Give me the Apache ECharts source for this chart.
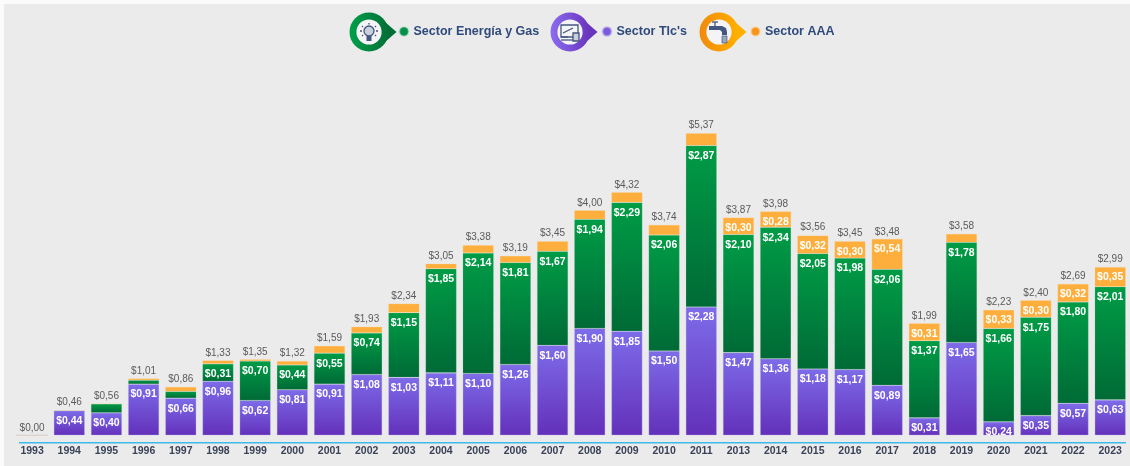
<!DOCTYPE html>
<html>
<head>
<meta charset="utf-8">
<style>
html,body{margin:0;padding:0;background:#fbfbfb;width:1130px;height:466px;overflow:hidden}
#bg{position:absolute;left:4px;top:4px;width:1126px;height:462px;background:#ebebeb}
#c{position:absolute;left:0;top:0;width:1130px;height:466px;filter:blur(0.5px)}
</style>
<script src="https://cdn.jsdelivr.net/npm/echarts@6/dist/echarts.min.js"></script>
</head>
<body>
<div id="bg"></div>
<div id="c"></div>
<script>
const years = ['1993','1994','1995','1996','1997','1998','1999','2000','2001','2002','2003','2004','2005','2006','2007','2008','2009','2010','2011','2013','2014','2015','2016','2017','2018','2019','2020','2021','2022','2023'];
const tics =    [0,0.44,0.40,0.91,0.66,0.96,0.62,0.81,0.91,1.08,1.03,1.11,1.10,1.26,1.60,1.90,1.85,1.50,2.28,1.47,1.36,1.18,1.17,0.89,0.31,1.65,0.24,0.35,0.57,0.63];
const energia = [0,0,0.16,0.07,0.12,0.31,0.70,0.44,0.55,0.74,1.15,1.85,2.14,1.81,1.67,1.94,2.29,2.06,2.87,2.10,2.34,2.05,1.98,2.06,1.37,1.78,1.66,1.75,1.80,2.01];
const aaa =     [0,0,0,0.03,0.08,0.06,0.03,0.07,0.13,0.11,0.16,0.09,0.14,0.12,0.18,0.16,0.18,0.18,0.22,0.30,0.28,0.32,0.30,0.54,0.31,0.15,0.33,0.30,0.32,0.35];
const totals =  [0,0.46,0.56,1.01,0.86,1.33,1.35,1.32,1.59,1.93,2.34,3.05,3.38,3.19,3.45,4.00,4.32,3.74,5.37,3.87,3.98,3.56,3.45,3.48,1.99,3.58,2.23,2.40,2.69,2.99];

const FONT = '"Liberation Sans", Arial, sans-serif';
const money = v => '$' + v.toFixed(2).replace('.', ',');
const grad = (a, b) => new echarts.graphic.LinearGradient(0, 0, 0, 1, [{offset:0,color:a},{offset:1,color:b}]);
const hgrad = (a, b) => new echarts.graphic.LinearGradient(0, 0, 1, 0, [{offset:0,color:a},{offset:1,color:b}]);
const inkLabel = min => ({
  show:true, position:'insideTop', distance:5, color:'#fff', fontFamily:FONT, fontWeight:'bold', fontSize:10.5,
  formatter:p => p.value >= min ? money(p.value) : ''
});
const ink = '#44567f';
const st = {stroke:ink, lineWidth:1.3, fill:'none'};

function badge(cx, cy, colorA, colorB, parts){
  return {type:'group', children:[
    {type:'polygon', shape:{points:[[cx+16,cy-10],[cx+27.5,cy],[cx+16,cy+10]]}, style:{fill:colorB}},
    {type:'circle', shape:{cx, cy, r:19.5}, style:{fill:hgrad(colorA, colorB)}},
    {type:'circle', shape:{cx, cy, r:12.6}, style:{fill:'#f4f4f6'}},
    ...parts
  ]};
}
const ln = (x1,y1,x2,y2) => ({type:'line', shape:{x1,y1,x2,y2}, style:st});
const bulb = (x,y) => [
  {type:'circle', shape:{cx:x,cy:y-2,r:5}, style:{stroke:ink,lineWidth:1.3,fill:'#c9cfdd'}},
  {type:'rect', shape:{x:x-2.5,y:y+3,width:5,height:5}, style:{fill:ink}},
  ln(x,y-10,x,y-8.5), ln(x-7,y-7,x-6,y-6), ln(x+7,y-7,x+6,y-6), ln(x-9,y-2,x-7,y-2), ln(x+9,y-2,x+7,y-2), ln(x-7,y+3,x-6,y+2), ln(x+7,y+3,x+6,y+2)
];
const device = (x,y) => [
  {type:'rect', shape:{x:x-9,y:y-8,width:17,height:12}, style:st},
  ln(x-7,y,x+3,y-5), ln(x-9,y+7,x+3,y+7), ln(x-9,y+4,x-2,y+4),
  {type:'rect', shape:{x:x+3,y:y,width:6,height:8}, style:{stroke:ink,lineWidth:1.3,fill:'#c9cfdd'}}
];
const tap = (x,y) => [
  {type:'polygon', shape:{points:[[x-10,y-6],[x+3,y-6],[x+7,y-4],[x+8,y],[x+8,y+3],[x+3,y+3],[x+3,y],[x+1,y-2],[x-10,y-2]]}, style:{fill:ink}},
  ln(x-4,y-10,x-4,y-6), ln(x-7,y-10,x-1,y-10),
  {type:'rect', shape:{x:x+3,y:y+4,width:5,height:7}, style:{fill:'#9aa6bf',stroke:ink,lineWidth:.7}}
];

const labelText = {color:'#2f4a7c', fontFamily:FONT, fontWeight:'bold', fontSize:12.5};
const legendAt = (left, name, color) => ({
  left, top:25, padding:0, itemGap:0, itemWidth:9, itemHeight:9, icon:'circle', selectedMode:false,
  textStyle:Object.assign({}, labelText),
  data:[{name, itemStyle:{color}}]
});

const chart = echarts.init(document.getElementById('c'), null, {renderer:'canvas'});
chart.setOption({
  animation:false,
  backgroundColor:'transparent',
  grid:{left:13.5, width:1115.3, top:100, height:343, containLabel:false},
  xAxis:{type:'category', data:years, boundaryGap:true,
    axisLine:{show:false, onZero:false}, axisTick:{show:false},
    axisLabel:{interval:0, margin:3, color:'#3a4258', fontFamily:FONT, fontWeight:'bold', fontSize:10.5}},
  yAxis:{type:'value', show:false, min:-0.137, max:5.96, splitLine:{show:false}},
  legend:[
    legendAt(398.5,'Sector Energía y Gas','#00904a'),
    legendAt(601.5,"Sector Tlc's",'#7a5be0'),
    legendAt(750,'Sector AAA','#f7941d')
  ],
  graphic:[
    {type:'line', silent:true, shape:{x1:19,y1:442.7,x2:1126,y2:442.7}, style:{stroke:'#3db9ea',lineWidth:1.4}},
    badge(369,32,'#00a04a','#006f37',bulb(369,33)),
    badge(570,32,'#8a6cf0','#6a35bd',device(570,33)),
    badge(719,32,'#f08a0c','#ffb000',tap(719,32))
  ],
  series:[
    {name:"Sector Tlc's", type:'bar', stack:'s', barWidth:31, data:tics,
     itemStyle:{color:grad('#7d6ce9','#6330ba'), borderColor:'rgba(190,175,235,.55)', borderWidth:.6},
     label:inkLabel(0.2)},
    {name:'Sector Energía y Gas', type:'bar', stack:'s', barWidth:31, data:energia,
     itemStyle:{color:grad('#009c46','#006a36'), borderColor:'rgba(170,215,190,.35)', borderWidth:.5},
     label:inkLabel(0.3)},
    {name:'Sector AAA', type:'bar', stack:'s', barWidth:31, data:aaa,
     itemStyle:{color:'#fdae3c', borderColor:'rgba(255,220,170,.5)', borderWidth:.5},
     label:inkLabel(0.25)},
    {name:'Total', type:'line', data:totals, symbol:'circle', symbolSize:1, showSymbol:true, showAllSymbol:true,
     itemStyle:{color:'rgba(0,0,0,0)'}, lineStyle:{width:0, color:'rgba(0,0,0,0)'}, z:5,
     label:{show:true, position:'top', distance:2, color:'#5a5a5a', fontFamily:FONT, fontSize:10,
       formatter:p => money(p.value)}}
  ]
});
</script>
</body>
</html>
